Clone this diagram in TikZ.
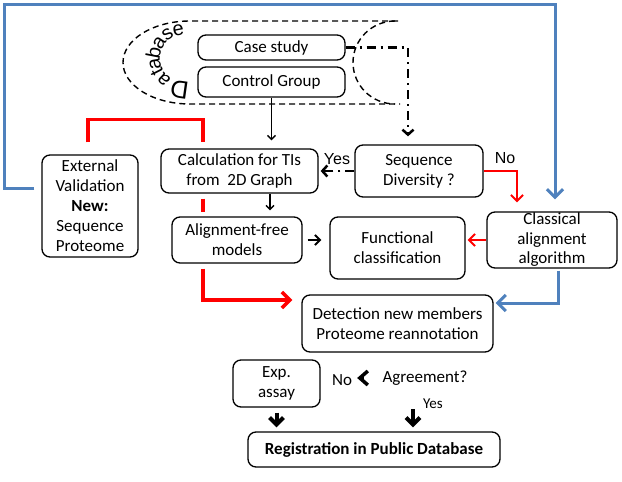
\documentclass[tikz,border=0pt]{standalone}
\usepackage{fontspec}
\setmainfont{Carlito}
\newfontfamily\arialfam{Liberation Sans}
\usetikzlibrary{arrows.meta,calc,backgrounds}
\definecolor{myblue}{RGB}{79,129,189}
\definecolor{myred}{RGB}{255,0,0}
\begin{document}
\begin{tikzpicture}[x=1pt,y=-1pt,
 box/.style={draw, line width=1.3pt, rounded corners=8pt, fill=white, align=center, inner sep=0pt, font=\fontsize{17}{20}\selectfont},
 blk/.style={line width=1.4pt, -{Straight Barb[length=4pt,width=8pt]}},
 blkthick/.style={line width=2pt, -{Straight Barb[length=5pt,width=10pt]}},
 dd/.style={line width=2.5pt, dash pattern=on 9pt off 5pt on 2pt off 5pt, -{Straight Barb[length=5pt,width=11pt]}},
 bluearr/.style={myblue, line width=3pt, -{Straight Barb[length=8pt,width=16pt]}},
 redline/.style={myred, line width=3.5pt},
 redarr/.style={myred, line width=3.5pt, -{Straight Barb[length=8pt,width=16pt]}},
 redthin/.style={myred, line width=2pt, -{Straight Barb[length=6pt,width=12pt]}},
 dbline/.style={line width=1.4pt, dash pattern=on 6pt off 4pt},
 dbletter/.style={inner sep=0pt, anchor=base, font=\arialfam\fontsize{20}{20}\selectfont},
 lbl/.style={inner sep=0pt, font=\fontsize{17}{20}\selectfont},
 alb/.style={inner sep=0pt, font=\arialfam\fontsize{16}{18}\selectfont},
 chev/.style={line width=4pt, -{Straight Barb[length=7pt,width=14pt]}},
]
\useasboundingbox (0,0) rectangle (622,482);

% database cylinder
\draw[dbline] (398,21) -- (190,21) arc[start angle=90, end angle=270, x radius=67pt, y radius=41.5pt] -- (400,104);
\draw[dbline] (395,21) arc[start angle=90, end angle=270, x radius=42pt, y radius=41.5pt];
\coordinate (dbc) at (184,58.5);
\node[dbletter, font=\arialfam\fontsize{25}{25}\selectfont, rotate=172] (db1) at ($(dbc)+(262:23pt)$) {D};
\foreach \ang/\ch [count=\i from 2] in {227/a, 207/t, 190/a, 169/b, 147/a, 124/s, 101/e}
  \node[dbletter, rotate=\ang-90] (db\i) at ($(dbc)+(\ang:24pt)$) {\ch};

% boxes
\node[box, minimum width=147pt, minimum height=25pt] (case) at (271.5,47.5) {Case study};
\node[box, minimum width=147pt, minimum height=30pt] (ctrl) at (271.5,82) {Control Group};
\node[box, minimum width=96pt, minimum height=102pt] (ext) at (90,206) {External\\Validation\\\textbf{New:}\\Sequence\\Proteome};
\node[box, minimum width=157pt, minimum height=44pt] (calc) at (239.5,171) {Calculation for TIs\\from~ 2D Graph};
\node[box, minimum width=130pt, minimum height=46pt] (af) at (237,240) {Alignment-free\\models};
\node[box, minimum width=128pt, minimum height=52pt] (sd) at (419,171) {Sequence\\Diversity ?};
\node[box, minimum width=135pt, minimum height=62pt] (fc) at (397.5,248) {Functional\\classification};
\node[box, minimum width=130pt, minimum height=56pt, font=\fontsize{17}{19.5}\selectfont] (ca) at (552,240) {Classical\\alignment\\algorithm};
\node[box, minimum width=191pt, minimum height=57pt] (det) at (397.5,323.5) {Detection new members\\Proteome reannotation};
\node[box, minimum width=87pt, minimum height=47pt] (exp) at (276.5,383.5) {Exp.\\assay};
\node[box, minimum width=252pt, minimum height=35pt] (reg) at (374,449.5) {\textbf{Registration in Public Database}};

% labels
\node[alb] (yes1) at (337,159) {Yes};
\node[alb] (no1) at (505,158) {No};
\node[lbl] (agree) at (425,378) {Agreement?};
\node[lbl] (no2) at (342,380) {No};
\node[lbl, font=\fontsize{15}{18}\selectfont] (yes2) at (433,404) {Yes};

% blue connectors
\draw[bluearr, shorten <=7pt, shorten >=12pt] ($(ext.west)+(0,-18)$) -- (4,188) -- (4,4) -- (555,4) -- (ca.north -| 555,0);
\draw[bluearr, shorten <=2pt, shorten >=2pt] (ca.south -| 558,0) -- (558,303) -- (det.east |- 0,303);

% red connectors
\draw[redline] ($(ext.north)+(-2,-12)$) -- ++(0,-23) -| ($(calc.north -| 203,0)+(0,-6)$);
\draw[redline] ($(calc.south -| 203,0)+(0,5)$) -- ($(af.north -| 203,0)+(0,-4)$);
\draw[redarr, shorten >=9pt] ($(af.south -| 203,0)+(0,5)$) |- (det.west |- 0,300);
\draw[redthin, shorten >=9pt] (sd.east) -| (ca.north -| 517,0);
\draw[redthin, shorten >=2pt] (ca.west) -- (ca.west -| fc.east);

% black connectors
\draw[blk, shorten >=8pt] (ctrl.south) -- (ctrl.south |- calc.north);
\draw[blk, shorten >=6pt] (calc.south -| 270,0) -- (af.north -| 270,0);
\draw[blkthick, shorten <=5pt, shorten >=8pt] (af.east) -- (af.east -| fc.west);

% dash-dot connectors
\draw[dd, shorten >=8pt] (case.east) -- (case.east -| 408,0) -- (sd.north -| 408,0);
\draw[dd, shorten >=2pt] (sd.west) -- (calc.east);

% bottom
\draw[line width=3.5pt, -{Straight Barb[length=8pt,width=14pt]}, shorten <=18pt, shorten >=5pt] (agree.west) -- (no2.east |- agree.west);
\draw[chev, shorten <=5pt, shorten >=4pt] (exp.south) -- (exp.south |- reg.north);
\draw[chev, shorten <=24pt, shorten >=4pt] (agree.south -| 413,0) -- (reg.north -| 413,0);
\end{tikzpicture}
\end{document}
